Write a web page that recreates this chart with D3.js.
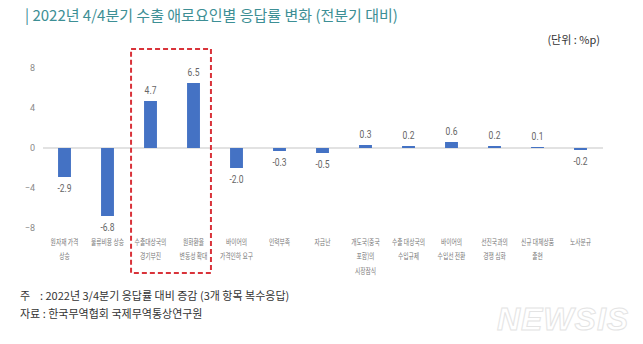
<!DOCTYPE html>
<html><head><meta charset="utf-8">
<script src="https://cdn.jsdelivr.net/npm/d3@7"></script>
<style>
html,body{margin:0;padding:0;background:#fff;}
svg{display:block;font-family:"Noto Sans CJK KR","Noto Sans",sans-serif;}
</style></head>
<body>
<svg id="chart" width="643" height="344"></svg>
<script>
const categories = [
  ["원자재 가격","상승"],
  ["물류비용 상승"],
  ["수출대상국의","경기부진"],
  ["원화환율","변동성 확대"],
  ["바이어의","가격인하 요구"],
  ["인력부족"],
  ["자금난"],
  ["개도국(중국","포함)의","시장잠식"],
  ["수출 대상국의","수입규제"],
  ["바이어의","수입선 전환"],
  ["선진국과의","경쟁 심화"],
  ["신규 대체상품","출현"],
  ["노사분규"]
];
const values = [-2.9, -6.8, 4.7, 6.5, -2.0, -0.3, -0.5, 0.3, 0.2, 0.6, 0.2, 0.1, -0.2];
const valueLabels = ["-2.9","-6.8","4.7","6.5","-2.0","-0.3","-0.5","0.3","0.2","0.6","0.2","0.1","-0.2"];
const yTicks = [8, 4, 0, -4, -8];
const highlighted = [2, 3];

const svg = d3.select("#chart");
const idx = d3.range(categories.length);

const x = d3.scaleBand().domain(idx).range([43, 602]).paddingInner(0.7).paddingOuter(0.35);
const y = d3.scaleLinear().domain([-8, 8]).range([228, 68]);
const cx = i => x(i) + x.bandwidth() / 2;

// title
svg.append("text").attr("x", 25).attr("y", 21).attr("font-size", 15).attr("fill", "#3d8f95")
  .text("| 2022년 4/4분기 수출 애로요인별 응답률 변화 (전분기 대비)");
svg.append("text").attr("x", 600).attr("y", 44).attr("text-anchor", "end").attr("font-size", 11).attr("fill", "#333")
  .text("(단위 : %p)");

// y axis labels
const yAxis = d3.axisLeft(y).tickValues(yTicks).tickSize(0).tickPadding(0).tickFormat(d3.format("d"));
const ga = svg.append("g").attr("transform", "translate(35,0)").call(yAxis);
ga.select(".domain").remove();
ga.selectAll("text").attr("font-size", 9).attr("fill", "#8a8a8a").attr("font-family", "Roboto, sans-serif");

// zero line
svg.append("line").attr("x1", 43).attr("x2", 603).attr("y1", y(0)).attr("y2", y(0))
  .attr("stroke", "#d9d9d9").attr("stroke-width", 1.5);

// bars
svg.append("g").selectAll("rect").data(idx).join("rect")
  .attr("x", i => x(i))
  .attr("width", x.bandwidth())
  .attr("y", i => y(Math.max(0, values[i])))
  .attr("height", i => Math.abs(y(values[i]) - y(0)))
  .attr("fill", "#4472c4");

// value labels
svg.append("g").selectAll("text").data(idx).join("text")
  .attr("transform", i => `translate(${cx(i)},${values[i] >= 0 ? y(values[i]) - 7 : y(values[i]) + 15}) scale(0.85,1)`)
  .attr("text-anchor", "middle").attr("font-size", 10).attr("fill", "#666")
  .attr("font-family", "Roboto, sans-serif")
  .text(i => valueLabels[i]);

// category labels
const cg = svg.append("g").selectAll("text").data(idx).join("text")
  .attr("transform", i => `translate(${cx(i)},245) scale(0.68,1)`)
  .attr("text-anchor", "middle").attr("font-size", 8.5).attr("fill", "#777");
cg.selectAll("tspan").data(i => categories[i].map(t => ({t, i}))).join("tspan")
  .attr("x", 0)
  .attr("dy", (d, k) => k === 0 ? 0 : 14.5)
  .text(d => d.t);

// highlight box
const bx0 = x(highlighted[0]) - 13, bx1 = x(highlighted[1]) + x.bandwidth() + 11;
svg.append("rect").attr("x", bx0).attr("y", 49).attr("width", bx1 - bx0).attr("height", 224)
  .attr("fill", "none").attr("stroke", "#d9333a").attr("stroke-width", 2).attr("stroke-dasharray", "5,3");

// footer
svg.append("text").attr("x", 20).attr("y", 300).attr("font-size", 11).attr("fill", "#333")
  .attr("xml:space", "preserve").text("주    : 2022년 3/4분기 응답률 대비 증감 (3개 항목 복수응답)");
svg.append("text").attr("x", 20).attr("y", 318).attr("font-size", 11).attr("fill", "#333")
  .text("자료 : 한국무역협회 국제무역통상연구원");

// watermark
svg.append("text").attr("x", 563).attr("y", 330).attr("text-anchor", "middle")
  .attr("font-family", "'Liberation Sans', Arial, sans-serif").attr("font-weight", "bold").attr("font-style", "italic")
  .attr("font-size", 32).attr("letter-spacing", 1).attr("fill", "#fff").attr("stroke", "#e4e4e4").attr("stroke-width", 1)
  .text("NEWSIS");
</script>
</body></html>
